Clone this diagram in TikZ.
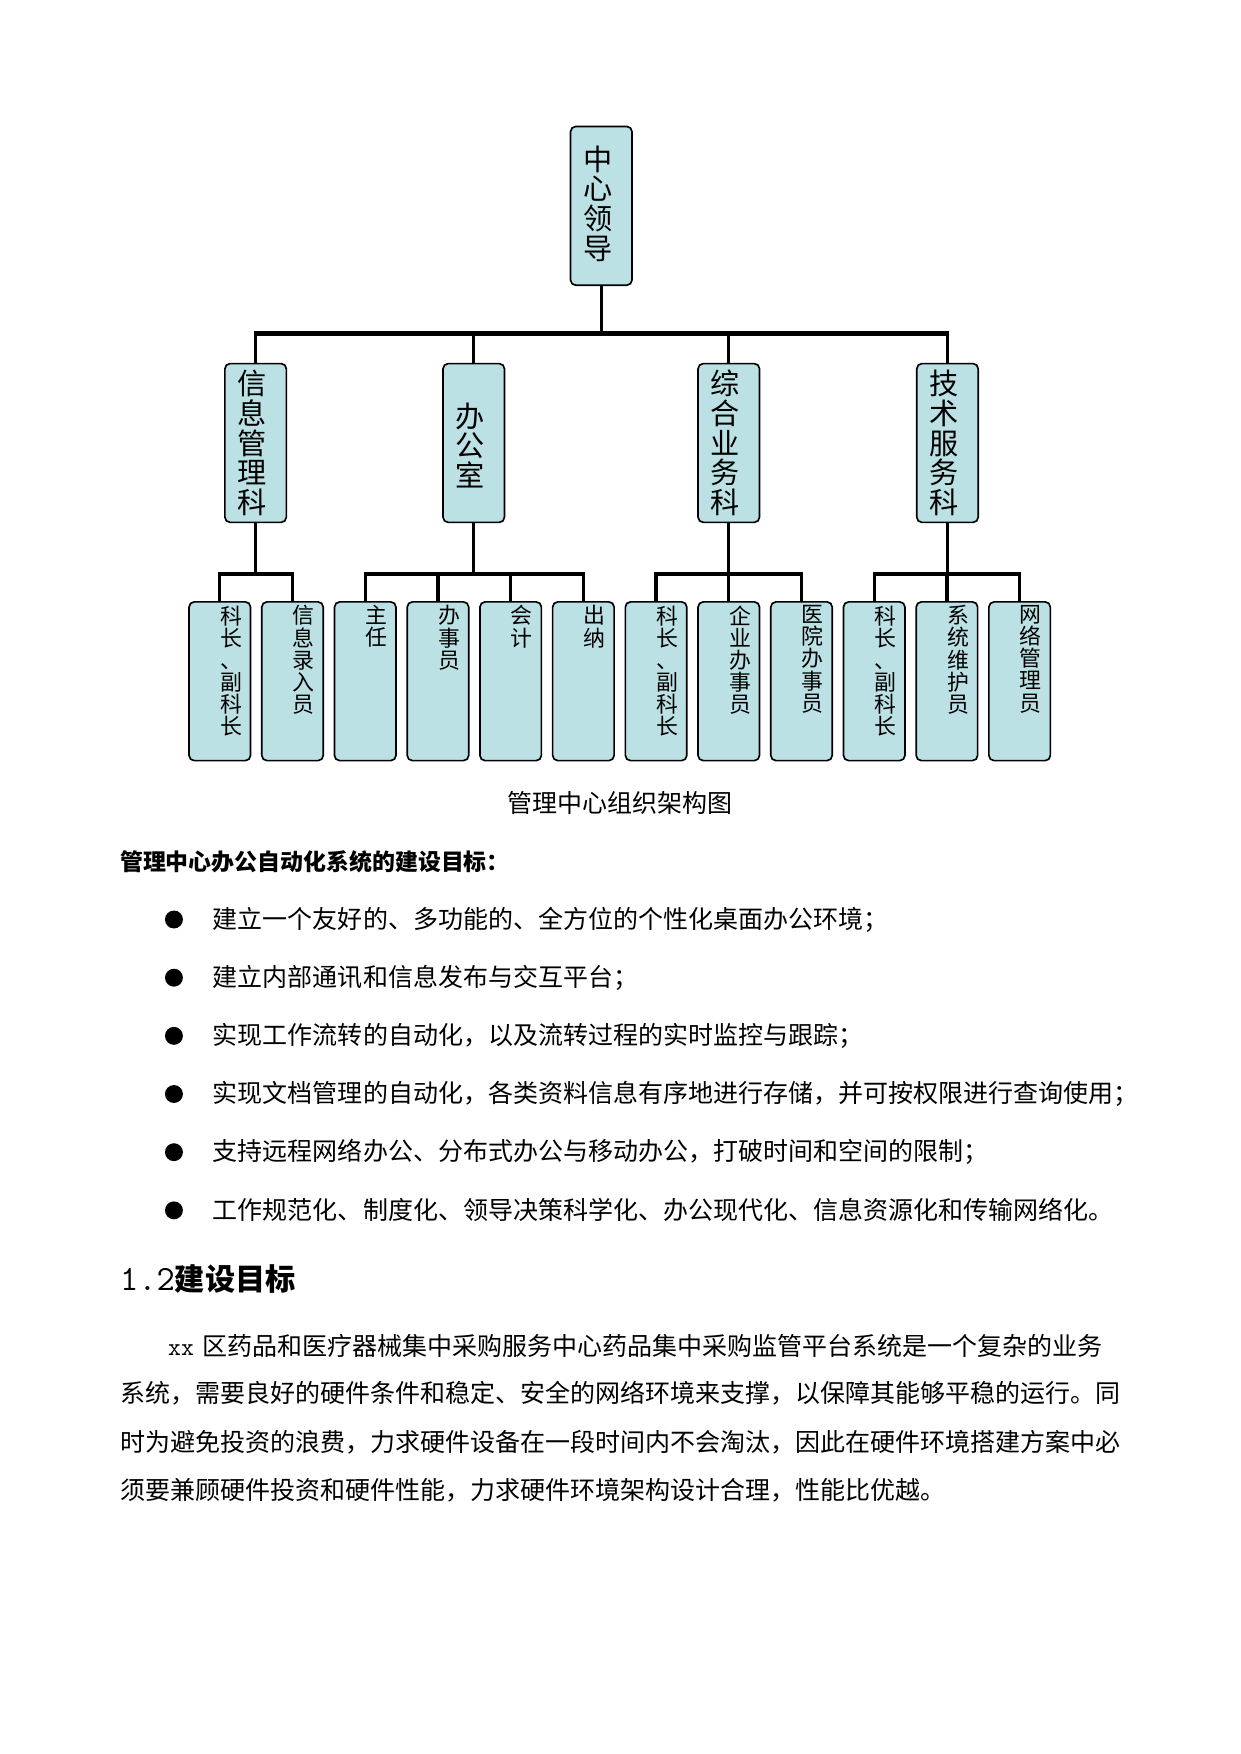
\documentclass[tikz,border=0pt]{standalone}
\usepackage{fontspec}
\setmainfont{Noto Sans CJK SC}
\definecolor{boxfill}{RGB}{188,225,228}
\def\spr#1{#1\sprx}
\def\sprx#1{\ifx\relax#1\else\hskip0pt plus 1fil #1\expandafter\sprx\fi}
\tikzset{
  orgbox/.style={draw=black, line width=0.8pt, fill=boxfill, rounded corners=2.5pt,
    minimum width=29.5pt, minimum height=76.2pt, inner sep=0pt},
  bigtxt/.style={font=\fontsize{14}{14.2}\selectfont, align=center, inner sep=0pt},
  smalltxt/.style={font=\fontsize{10.5}{10.6}\selectfont, align=center, inner sep=0pt, anchor=north},
  vline/.style={line width=1.6pt},
  hbar/.style={line width=2.2pt},
  body/.style={font=\fontsize{12}{12}\selectfont, anchor=west, inner sep=0pt},
  bullet/.style={circle, fill=black, inner sep=0pt, minimum size=8.6pt},
}
\begin{document}
\begin{tikzpicture}[x=0.53677pt, y=-0.53677pt]
\useasboundingbox (0,0) rectangle (1109,1568);

% top
\node[orgbox] (top) at (537.5,184) {};
\node[bigtxt] (ttop) at (535,182) {中\\心\\领\\导};

% level 2
\node[orgbox] (m1) at (228.5,396) {};
\node[orgbox] (m2) at (423.5,396) {};
\node[orgbox] (m3) at (651.5,396) {};
\node[orgbox] (m4) at (847,396) {};
\node[bigtxt] (tm1) at (225.5,396) {信\\息\\管\\理\\科};
\node[bigtxt] (tm2) at (420.5,398) {办\\公\\室};
\node[bigtxt] (tm3) at (648.5,396) {综\\合\\业\\务\\科};
\node[bigtxt] (tm4) at (844,396) {技\\术\\服\\务\\科};

% level 3
\foreach \i/\x in {1/196.5,2/261.5,3/326.5,4/391.5,5/456.5,6/521.5,7/586.5,8/651.5,9/716.5,10/781.5,11/846.5,12/911.5}
  \node[orgbox] (c\i) at (\x,609) {};
\node[smalltxt] (tc1) at (206.5,541) {科\\长\\、\\副\\科\\长};
\node[smalltxt] (tc2) at (271.5,541) {信\\息\\录\\入\\员};
\node[smalltxt] (tc3) at (336.5,541) {主\\任};
\node[smalltxt] (tc4) at (401.5,541) {办\\事\\员};
\node[smalltxt] (tc5) at (466.5,541) {会\\计};
\node[smalltxt] (tc6) at (531.5,541) {出\\纳};
\node[smalltxt] (tc7) at (596.5,541) {科\\长\\、\\副\\科\\长};
\node[smalltxt] (tc8) at (661.5,541) {企\\业\\办\\事\\员};
\node[smalltxt] (tc9) at (726.5,541) {医\\院\\办\\事\\员};
\node[smalltxt] (tc10) at (791.5,541) {科\\长\\、\\副\\科\\长};
\node[smalltxt] (tc11) at (856.5,541) {系\\统\\维\\护\\员};
\node[smalltxt] (tc12) at (921.5,541) {网\\络\\管\\理\\员};

% connectors
\coordinate (barA) at (537.5,298);
\coordinate (barB) at (537.5,513);
\draw[vline] (top.south) -- (top.south |- barA);
\draw[hbar] ([xshift=-0.8pt]m1.north |- barA) -- ([xshift=0.8pt]m4.north |- barA);
\foreach \m in {m1,m2,m3,m4} \draw[vline] (\m.north) -- (\m.north |- barA);
\foreach \p/\first/\last/\kids in {m1/c1/c2/{c1,c2}, m2/c3/c6/{c3,c4,c5,c6}, m3/c7/c9/{c7,c8,c9}, m4/c10/c12/{c10,c11,c12}} {
  \draw[vline] (\p.south) -- (\p.south |- barB);
  \draw[hbar] ([xshift=-0.8pt]\first.north |- barB) -- ([xshift=0.8pt]\last.north |- barB);
  \foreach \k in \kids \draw[vline] (\k.north) -- (\k.north |- barB);
}

% caption
\node[font=\fontsize{12}{12}\selectfont, inner sep=0pt] (cap) at (554,718) {管理中心组织架构图};

% heading
\node[font=\fontsize{11}{11}\selectfont\bfseries, anchor=west, inner sep=0pt] (h1) at (107,770) {管理中心办公自动化系统的建设目标：};

% bullets
\foreach \i/\y/\t in {1/822/{建立一个友好的、多功能的、全方位的个性化桌面办公环境；},
  2/874/{建立内部通讯和信息发布与交互平台；},
  3/926/{实现工作流转的自动化，以及流转过程的实时监控与跟踪；},
  4/978/{实现文档管理的自动化，各类资料信息有序地进行存储，并可按权限进行查询使用；},
  5/1030/{支持远程网络办公、分布式办公与移动办公，打破时间和空间的限制；},
  6/1082/{工作规范化、制度化、领导决策科学化、办公现代化、信息资源化和传输网络化。}} {
  \node[bullet] (bu\i) at (155.5,\y) {};
  \node[body] (bt\i) at (190,\y) {\t};
}

% section heading
\node[anchor=west, inner sep=0pt] (h2) at (107,1143)
  {{\ttfamily\fontsize{17}{17}\selectfont 1.2}{\fontsize{14.5}{14.5}\selectfont\bfseries 建设目标}};

% paragraph
\node[body] (p1) at (150,1203) {{\ttfamily xx}\hspace{4pt}区药品和医疗器械集中采购服务中心药品集中采购监管平台系统是一个复杂的业务};
\node[body] (p2) at (107,1245) {\hbox to 477pt{\spr 系统，需要良好的硬件条件和稳定、安全的网络环境来支撑，以保障其能够平稳的运行。同\relax}};
\node[body] (p3) at (107,1289) {\hbox to 478pt{\spr 时为避免投资的浪费，力求硬件设备在一段时间内不会淘汰，因此在硬件环境搭建方案中必\relax}};
\node[body] (p4) at (107,1332) {须要兼顾硬件投资和硬件性能，力求硬件环境架构设计合理，性能比优越。};
\end{tikzpicture}
\end{document}
